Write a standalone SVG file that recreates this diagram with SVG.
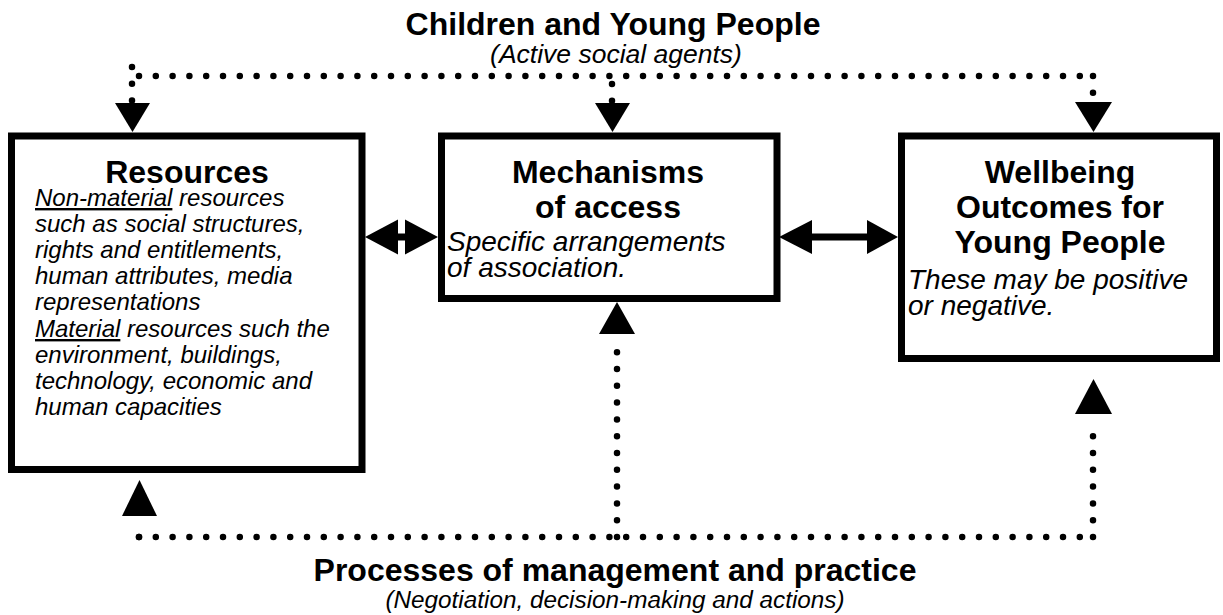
<svg xmlns="http://www.w3.org/2000/svg" width="1223" height="615" viewBox="0 0 1223 615">
<style>
.box{fill:#fff;stroke:#000;stroke-width:7}
.dot{fill:none;stroke:#000;stroke-width:6.5;stroke-linecap:round;stroke-dasharray:0 16.8}
.head{fill:#000}
.b{font-family:"Liberation Sans",Arial,sans-serif;font-weight:bold;font-size:32px;fill:#000;text-anchor:middle}
.i{font-family:"Liberation Sans",Arial,sans-serif;font-style:italic;font-size:24px;fill:#000}
.i2{font-family:"Liberation Sans",Arial,sans-serif;font-style:italic;font-size:28px;fill:#000}
.ic{font-family:"Liberation Sans",Arial,sans-serif;font-style:italic;fill:#000;text-anchor:middle}
.u{text-decoration:underline}
</style>
<rect width="1223" height="615" fill="#fff"/>
<g id="connectors">
  <path class="dot" d="M132,67 V101"/>
  <path class="dot" d="M139,76 H1093"/>
  <path class="dot" d="M612,84 V101"/>
  <path class="dot" d="M1093,76 V93"/>
  <polygon class="head" points="115,103 150,103 132.5,132"/>
  <polygon class="head" points="595,103 630,103 612.5,132"/>
  <polygon class="head" points="1075,102 1112,102 1093.5,132"/>
  <path class="dot" d="M139,537 H1093"/>
  <path class="dot" d="M139,537 V522"/>
  <path class="dot" d="M617,537 V340"/>
  <path class="dot" d="M1093,537 V422"/>
  <polygon class="head" points="122,516 157,516 139.5,480"/>
  <polygon class="head" points="599,334 635,334 617,302"/>
  <polygon class="head" points="1075,414 1112,414 1093.5,379"/>
  <polygon class="head" points="365,237 398,219.5 398,254.5"/>
  <rect x="397" y="233.5" width="9" height="7" fill="#000"/>
  <polygon class="head" points="438,237 405,219.5 405,254.5"/>
  <polygon class="head" points="779,237 812,220 812,254"/>
  <rect x="811" y="233.5" width="57" height="7" fill="#000"/>
  <polygon class="head" points="898,237 867,220 867,254"/>
</g>
<g id="top-label">
  <text class="b" x="613" y="35">Children and Young People</text>
  <text class="ic" x="616" y="63" font-size="26.5">(Active social agents)</text>
</g>
<g id="bottom-label">
  <text class="b" x="615" y="581">Processes of management and practice</text>
  <text class="ic" x="615" y="608" font-size="24.3">(Negotiation, decision-making and actions)</text>
</g>
<g id="resources">
  <rect class="box" x="11.5" y="136" width="350.5" height="333.5"/>
  <text class="b" x="187" y="183">Resources</text>
  <text class="i" x="35" y="206"><tspan class="u">Non-material</tspan> resources</text>
  <text class="i" x="35" y="232">such as social structures,</text>
  <text class="i" x="35" y="258">rights and entitlements,</text>
  <text class="i" x="35" y="284">human attributes, media</text>
  <text class="i" x="35" y="310">representations</text>
  <text class="i" x="35" y="337"><tspan class="u">Material</tspan> resources such the</text>
  <text class="i" x="35" y="363">environment, buildings,</text>
  <text class="i" x="35" y="389">technology, economic and</text>
  <text class="i" x="35" y="415">human capacities</text>
</g>
<g id="mechanisms">
  <rect class="box" x="441.5" y="136" width="335.5" height="162.5"/>
  <text class="b" x="608" y="183">Mechanisms</text>
  <text class="b" x="608" y="218">of access</text>
  <text class="i2" x="447" y="251">Specific arrangements</text>
  <text class="i2" x="447" y="277">of association.</text>
</g>
<g id="wellbeing">
  <rect class="box" x="901.5" y="136" width="315" height="222.5"/>
  <text class="b" x="1060" y="183">Wellbeing</text>
  <text class="b" x="1060" y="218">Outcomes for</text>
  <text class="b" x="1060" y="253">Young People</text>
  <text class="i2" x="908" y="289">These may be positive</text>
  <text class="i2" x="908" y="315">or negative.</text>
</g>
</svg>
